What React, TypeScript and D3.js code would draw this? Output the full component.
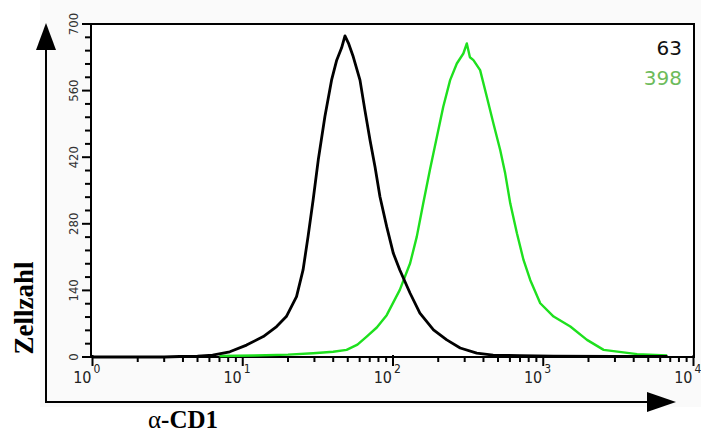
import React from "react";
import * as d3 from "d3";

const yTicks = [0, 140, 280, 420, 560, 700];
const xDecades = [0, 1, 2, 3, 4];

const blackX = [1, 3.0, 3.8, 5.0, 6.3, 8.2, 10.6, 13.7, 16.8, 19.5, 22.8, 25.2, 27.2, 29.4, 31.8, 35.2, 39.0, 42.2, 45.5, 47.9, 50.5, 54.4, 60.3, 65.0, 70.3, 75.9, 81.9, 90.8, 100.5, 111, 130, 151, 186, 228, 280, 361, 464, 700, 1167, 3000, 6714];
const blackY = [0, 0, 1, 2, 4, 11, 25, 43, 64, 85, 127, 183, 253, 330, 414, 505, 582, 624, 650, 675, 660, 631, 582, 519, 456, 400, 337, 274, 218, 183, 134, 92, 57, 36, 19, 8, 4, 3, 2, 1, 1];

const greenX = [7.0, 12, 20, 29.4, 40, 49.1, 58, 66.8, 78, 90.8, 111, 130, 144, 159, 176, 196, 216, 240, 266, 294, 310, 325, 343, 380, 421, 466, 517, 558, 603, 668, 739, 819, 955, 1172, 1514, 1955, 2523, 4214, 6679];
const greenY = [2, 3, 5, 8, 11, 15, 26, 43, 62, 88, 141, 197, 253, 323, 393, 463, 526, 582, 617, 638, 659, 630, 624, 603, 547, 491, 435, 386, 323, 260, 204, 162, 113, 85, 64, 36, 15, 6, 3];

const W = 701;
const H = 435;

export default function App() {
  const x = d3.scaleLog().domain([1, 10000]).range([92.5, 693.5]);
  const y = d3.scaleLinear().domain([0, 700]).range([357, 24]);
  const line = d3
    .line<[number, number]>()
    .x((d) => x(d[0]))
    .y((d) => y(d[1]));
  const blackPts = blackX.map((v, i) => [v, blackY[i]] as [number, number]);
  const greenPts = greenX.map((v, i) => [v, greenY[i]] as [number, number]);

  const yMinor: number[] = d3.range(0, 701, 28);
  const xMinor: number[] = [];
  for (let d = 0; d < 4; d++) {
    for (let k = 2; k <= 9; k++) xMinor.push(k * Math.pow(10, d));
  }
  const narrow = "'Liberation Sans Narrow', 'DejaVu Sans Condensed', 'Liberation Sans', Arial, sans-serif";

  return (
    <svg width={W} height={H} style={{ position: "absolute", left: 0, top: 0, background: "#fff" }}>
      <rect x={40} y={0} width={661} height={407} fill="#fafafa" />
      {/* frame */}
      <rect x={91} y={24} width={603} height={333} fill="#fff" stroke="#000" strokeWidth={2} />
      {/* y ticks */}
      {yMinor.map((v) => (
        <line key={"ym" + v} x1={yTicks.includes(v) ? 82 : 85} x2={91} y1={y(v)} y2={y(v)} stroke="#000" strokeWidth={2} />
      ))}
      {yTicks.map((v) => (
        <text
          key={"yl" + v}
          transform={`translate(78,${y(v)}) rotate(-90)`}
          textAnchor="middle"
          fontFamily={narrow}
          fontSize={13}
          fill="#333"
        >
          {v}
        </text>
      ))}
      {/* x ticks */}
      {xMinor.map((v, i) => (
        <line key={"xm" + i} x1={x(v)} x2={x(v)} y1={357} y2={362} stroke="#000" strokeWidth={2} />
      ))}
      {xDecades.map((d) => (
        <g key={"xd" + d}>
          <line x1={x(Math.pow(10, d))} x2={x(Math.pow(10, d))} y1={355} y2={366} stroke="#000" strokeWidth={2} />
          <text x={x(Math.pow(10, d)) - 1} y={383} textAnchor="end" fontFamily={narrow} fontSize={16} fill="#222">
            10
          </text>
          <text x={x(Math.pow(10, d)) + 1} y={373} textAnchor="start" fontFamily={narrow} fontSize={12} fill="#222">
            {d}
          </text>
        </g>
      ))}
      {/* curves */}
      <path d={line(greenPts) || ""} fill="none" stroke="#1ee01e" strokeWidth={2.4} strokeLinejoin="round" />
      <path d={line(blackPts) || ""} fill="none" stroke="#000" strokeWidth={2.8} strokeLinejoin="round" />
      {/* value labels */}
      <text x={682} y={55} textAnchor="end" fontFamily="'DejaVu Sans', sans-serif" fontSize={20} fill="#111">
        63
      </text>
      <text x={682} y={85} textAnchor="end" fontFamily="'DejaVu Sans', sans-serif" fontSize={20} fill="#6dbb5b">
        398
      </text>
      {/* arrows */}
      <line x1={46} y1={403} x2={46} y2={45} stroke="#000" strokeWidth={2} />
      <path d="M46,23 L36,50 L56,50 Z" fill="#000" />
      <line x1={45} y1={402} x2={655} y2={402} stroke="#000" strokeWidth={2} />
      <path d="M676,402 L647,392 L647,412 Z" fill="#000" />
      {/* axis titles */}
      <text
        transform="translate(33,308) rotate(-90)"
        textAnchor="middle"
        fontFamily="'Liberation Serif', 'Times New Roman', serif"
        fontWeight="bold"
        fontSize={27}
        fill="#000"
      >
        Zellzahl
      </text>
      <text x={148} y={428} fontFamily="'Liberation Serif', 'Times New Roman', serif" fontSize={25} fill="#000">
        <tspan fontWeight="normal">α</tspan>
        <tspan fontWeight="bold">-CD1</tspan>
      </text>
    </svg>
  );
}
